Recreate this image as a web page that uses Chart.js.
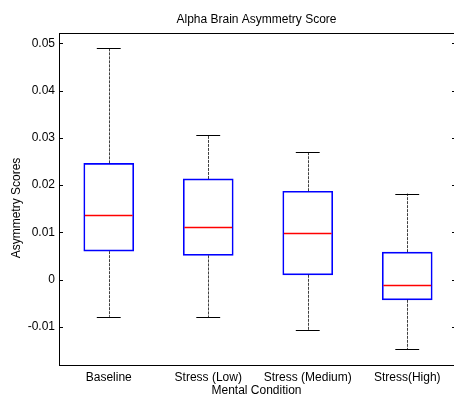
<!DOCTYPE html>
<html>
<head>
<meta charset="utf-8">
<script src="https://cdn.jsdelivr.net/npm/chart.js@4/dist/chart.umd.min.js"></script>
<style>
  html, body { margin: 0; padding: 0; background: #fff; }
  #wrap { width: 454px; height: 394px; position: relative; }
</style>
</head>
<body>
<div id="wrap"><canvas id="c" width="454" height="394"></canvas></div>
<script>
// ---- data ----
const categories = ['Baseline', 'Stress (Low)', 'Stress (Medium)', 'Stress(High)'];
const whiskerLow  = [-0.0079, -0.0080, -0.0107, -0.0148];
const q1          = [ 0.0060,  0.0051,  0.0010, -0.0043];
const medians     = [ 0.0137,  0.0112,  0.0099, -0.0012];
const q3          = [ 0.0246,  0.0213,  0.0187,  0.0058];
const whiskerHigh = [ 0.0491,  0.0305,  0.0270,  0.0182];
const yTickValues = [-0.01, 0, 0.01, 0.02, 0.03, 0.04, 0.05];
const yTickLabels = ['-0.01', '0', '0.01', '0.02', '0.03', '0.04', '0.05'];
const yAxisTitle = 'Asymmetry Scores';

const FONT = "'Liberation Sans', Arial, Helvetica, sans-serif";

const boxData = categories.map((c, i) => ({ x: i + 1, y: [q1[i], q3[i]] }));

const boxPlotPlugin = {
  id: 'boxPlotExtras',
  afterDatasetsDraw(chart) {
    const { ctx, scales: { x, y }, chartArea } = chart;
    ctx.save();
    const capHalf = 0.12;  // in x units
    const boxHalf = 0.25;
    categories.forEach((c, i) => {
      const cx = Math.round(x.getPixelForValue(i + 1)) + 0.5;
      // whiskers (dashed)
      ctx.strokeStyle = 'rgba(0,0,0,0.75)';
      ctx.lineWidth = 1;
      ctx.setLineDash([3, 1]);
      ctx.beginPath();
      ctx.moveTo(cx, y.getPixelForValue(q3[i]));
      ctx.lineTo(cx, y.getPixelForValue(whiskerHigh[i]));
      ctx.moveTo(cx, y.getPixelForValue(q1[i]));
      ctx.lineTo(cx, y.getPixelForValue(whiskerLow[i]));
      ctx.stroke();
      ctx.setLineDash([]);
      // caps
      ctx.strokeStyle = '#000000';
      ctx.beginPath();
      const cl = x.getPixelForValue(i + 1 - capHalf), cr = x.getPixelForValue(i + 1 + capHalf);
      [whiskerHigh[i], whiskerLow[i]].forEach(v => {
        const py = Math.round(y.getPixelForValue(v)) + 0.5;
        ctx.moveTo(cl, py); ctx.lineTo(cr, py);
      });
      ctx.stroke();
      // median
      ctx.strokeStyle = 'rgb(255,0,0)';
      ctx.lineWidth = 1.5;
      ctx.beginPath();
      const my = Math.round(y.getPixelForValue(medians[i])) + 0.5;
      ctx.moveTo(x.getPixelForValue(i + 1 - boxHalf) + 1, my);
      ctx.lineTo(x.getPixelForValue(i + 1 + boxHalf) - 1, my);
      ctx.stroke();
      ctx.lineWidth = 1;
    });
    // top frame line
    ctx.strokeStyle = '#000000';
    ctx.lineWidth = 1;
    ctx.beginPath();
    ctx.moveTo(chartArea.left, chartArea.top + 0.5);
    ctx.lineTo(chartArea.right + 5, chartArea.top + 0.5);
    ctx.stroke();
    // inward tick marks on left and right
    ctx.beginPath();
    y.ticks.forEach(t => {
      const py = Math.round(y.getPixelForValue(t.value)) + 0.5;
      ctx.moveTo(chartArea.left, py); ctx.lineTo(chartArea.left + 4, py);
      ctx.moveTo(chartArea.right + 3, py); ctx.lineTo(chartArea.right - 2, py);
    });
    ctx.stroke();
    // y-axis title (rotated), centred slightly below the axis middle as in the reference
    ctx.fillStyle = '#000';
    ctx.font = '12px ' + FONT;
    ctx.textAlign = 'center';
    ctx.textBaseline = 'middle';
    ctx.translate(17, (chartArea.top + chartArea.bottom) / 2 + 9);
    ctx.rotate(-Math.PI / 2);
    ctx.fillText(yAxisTitle, 0, 0);
    ctx.restore();
  }
};

new Chart(document.getElementById('c'), {
  type: 'bar',
  data: {
    datasets: [{
      data: boxData,
      backgroundColor: 'rgba(255,255,255,0)',
      borderColor: '#0000ff',
      borderWidth: 1,
      borderSkipped: false,
      barThickness: 50
    }]
  },
  options: {
    responsive: false,
    animation: false,
    devicePixelRatio: 1,
    layout: { padding: { left: 0, right: 0, top: 0, bottom: 0 } },
    plugins: {
      legend: { display: false },
      tooltip: { enabled: false },
      title: {
        display: true,
        fullSize: false,
        text: 'Alpha Brain Asymmetry Score',
        color: '#000',
        font: { family: FONT, size: 12, weight: 'normal' },
        padding: { top: 12, bottom: 6.6 }
      }
    },
    scales: {
      x: {
        type: 'linear',
        offset: false,
        min: 0.5,
        max: 4.47,
        afterFit(s) { s.height = 29; },
        afterBuildTicks(s) { s.ticks = categories.map((c, i) => ({ value: i + 1 })); },
        grid: { display: true, color: 'rgba(0,0,0,0)', drawTicks: false, offset: false },
        border: { display: true, color: '#000', width: 1 },
        ticks: {
          color: '#000',
          font: { family: FONT, size: 12 },
          padding: 5,
          maxRotation: 0,
          autoSkip: false,
          callback: (v) => categories[v - 1]
        },
        title: {
          display: true,
          text: 'Mental Condition',
          color: '#000',
          font: { family: FONT, size: 12 },
          padding: { top: 0, bottom: -4 }
        }
      },
      y: {
        min: -0.0181,
        max: 0.0522,
        afterFit(s) { s.width = 59; },
        afterBuildTicks(s) { s.ticks = yTickValues.map(v => ({ value: v })); },
        grid: { display: true, color: 'rgba(0,0,0,0)', drawTicks: false },
        border: { display: true, color: '#000', width: 1 },
        ticks: {
          color: '#000',
          font: { family: FONT, size: 12 },
          padding: 4,
          callback: (v) => { const k = yTickValues.indexOf(v); return k >= 0 ? yTickLabels[k] : ''; }
        },
        title: { display: false }
      }
    }
  },
  plugins: [boxPlotPlugin]
});
</script>
</body>
</html>
